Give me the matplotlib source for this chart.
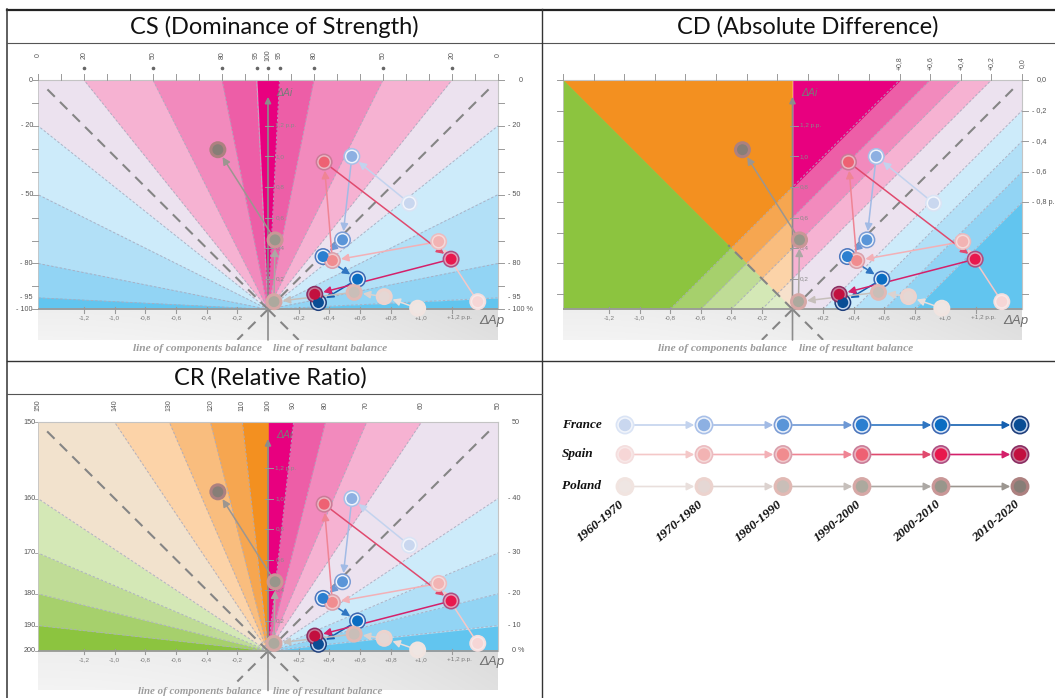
import numpy as np
import matplotlib
matplotlib.use('Agg')
import matplotlib.pyplot as plt
from matplotlib.patches import Polygon
from matplotlib.lines import Line2D

# ---------------- data ----------------
decades = ['1960-1970', '1970-1980', '1980-1990', '1990-2000', '2000-2010', '2010-2020']
countries = ['France', 'Spain', 'Poland']
france_dAp = [0.922, 0.547, 0.486, 0.359, 0.584, 0.329]
france_dAi = [0.694, 1.000, 0.454, 0.345, 0.197, 0.044]
spain_dAp = [1.368, 1.113, 0.420, 0.366, 1.194, 0.305]
spain_dAi = [0.050, 0.443, 0.319, 0.963, 0.328, 0.098]
poland_dAp = [0.976, 0.758, 0.562, 0.039, 0.046, -0.327]
poland_dAi = [0.007, 0.083, 0.111, 0.050, 0.454, 1.044]

cs_levels = [0, 20, 50, 80, 95, 100]
cd_levels = [0.0, 0.2, 0.4, 0.6, 0.8]
cr_levels = [0, 10, 20, 30, 40, 50, 60, 70, 80, 90, 100]
dAp_ticks = [-1.2, -1.0, -0.8, -0.6, -0.4, -0.2, 0.2, 0.4, 0.6, 0.8, 1.0, 1.2]
dAi_ticks = [0.2, 0.4, 0.6, 0.8, 1.0, 1.2]
titles = ['CS (Dominance of Strength)', 'CD (Absolute Difference)', 'CR (Relative Ratio)']

# ---------------- styles ----------------
LAV = '#ece2ef'
BLUES = ['#cdebfa', '#b2e0f7', '#92d4f4', '#62c5ef']
PINKS = ['#f6b2d2', '#f28abd', '#ed5ea7', '#e8007f']
ORANGES = ['#fcd3a8', '#f9bd7e', '#f6a650', '#f39020']
GREENS = ['#d4e8b6', '#bfdc96', '#a6d06c', '#8cc43f']
BEIGE = '#f2e2cd'
OR0, GR0 = '#f7e1cc', '#dcecc6'
SANS = ['Liberation Sans', 'DejaVu Sans']
SERIF = ['Liberation Serif', 'DejaVu Serif']
TFONT = ['Lato', 'DejaVu Sans']
LBL = '#555555'

fr_fill = ['#c9d7ef', '#8db0e2', '#5a95d8', '#2b7fd0', '#0b6dc2', '#0a4d94']
fr_ring = ['#dae4f5', '#a9c0e8', '#7c9dd5', '#4d77bd', '#3d68b2', '#1f3f7c']
fr_gap = ['#f2f5fb', '#f0f4fb', '#eef3fb', '#e8f0fa', '#e4eef9', '#c9d8ee']
sp_fill = ['#f6d6d6', '#f2b3b3', '#f08c8f', '#ee6173', '#e8184d', '#c2103f']
sp_ring = ['#f4dede', '#ebbcc0', '#d9a0ac', '#c97c98', '#ad4e82', '#8a2d62']
sp_gap = ['#f8e8e8', '#f5dada', '#f0c8cc', '#eab6c2', '#e0a0b8', '#c47a98']
pl_fill = ['#efe6e3', '#e5d7d4', '#c9beb8', '#aca99e', '#98968b', '#877e77']
pl_ring = ['#f1e4e0', '#ecd3ce', '#e1b9b4', '#d6a8a6', '#c99797', '#ad8180']
fr_arrow = ['#c3d3ee', '#a2bbe5', '#6e98d4', '#2f76c2', '#1460b0']
sp_arrow = ['#f4c8c8', '#f3b0b6', '#ef8494', '#e04a6e', '#d4206a']
pl_arrow = ['#e9dfdc', '#dcd2cf', '#c6bfbb', '#aca8a4', '#9c9690']

series = [
    (france_dAp, france_dAi, fr_fill, fr_ring, fr_gap, fr_arrow),
    (spain_dAp, spain_dAi, sp_fill, sp_ring, sp_gap, sp_arrow),
    (poland_dAp, poland_dAi, pl_fill, pl_ring, pl_ring, pl_arrow),
]

W, H = 1055, 698
fig = plt.figure(figsize=(W / 100, H / 100), dpi=100)
fig.patch.set_facecolor('white')

BOX = [(-1.5, 0.0), (1.5, 0.0), (1.5, 1.5), (-1.5, 1.5)]


def clip(poly, a, b, c):
    out = []
    n = len(poly)
    for i in range(n):
        P, Q = poly[i], poly[(i + 1) % n]
        fp = a * P[0] + b * P[1] + c
        fq = a * Q[0] + b * Q[1] + c
        if fp >= 0:
            out.append(P)
        if (fp >= 0) != (fq >= 0):
            t = fp / (fp - fq)
            out.append((P[0] + t * (Q[0] - P[0]), P[1] + t * (Q[1] - P[1])))
    return out


def fill_poly(ax, cons, color):
    p = BOX
    for a, b, c in cons:
        p = clip(p, a, b, c)
        if len(p) < 3:
            return
    ax.add_patch(Polygon(p, closed=True, fc=color, ec=color, lw=0.4, zorder=2))


def wedge(ax, a1, a2, color):
    t1, t2 = np.radians(a1), np.radians(a2)
    fill_poly(ax, [(-np.sin(t1), np.cos(t1), 0.0), (np.sin(t2), -np.cos(t2), 0.0)], color)


def ray_end(a):
    t = np.radians(a)
    dx, dy = np.cos(t), np.sin(t)
    s1 = 1.5 / abs(dx) if abs(dx) > 1e-9 else 1e9
    s2 = 1.5 / dy if dy > 1e-9 else 1e9
    s = min(s1, s2)
    return dx * s, dy * s


def thin_dash(ax, x0, y0, x1, y1):
    ax.plot([x0, x1], [y0, y1], color='#a9acc0', lw=0.7, dashes=(2.5, 2.0), zorder=3, alpha=0.9)


def px_axes(x0, x1, ytop, ybot):
    return fig.add_axes([x0 / W, 1 - ybot / H, (x1 - x0) / W, (ybot - ytop) / H])


def make_panel(x0, x1, ytop, yorig, ybot):
    ax = px_axes(x0, x1, ytop, ybot)
    sc = (yorig - ytop) / 1.5
    gb = -(ybot - yorig) / sc
    ax.set_xlim(-1.5, 1.5)
    ax.set_ylim(gb, 1.5)
    ax.axis('off')
    return ax, gb, sc


def decorate(ax, gb, diag_left=1.46):
    # gray band below the ΔAp axis
    xs = np.linspace(0, 1, 300)
    ys = np.linspace(0, 1, 30)
    X, Y = np.meshgrid(xs, ys)
    v = 0.955 - 0.075 * X ** 2 - 0.02 * (1 - Y)
    img = np.dstack([v, v, v])
    ax.imshow(img, extent=(-1.5, 1.5, gb, 0), aspect='auto', origin='upper', zorder=1,
              interpolation='bilinear')
    ax.set_xlim(-1.5, 1.5)
    ax.set_ylim(gb, 1.5)
    # frame
    ax.plot([-1.5, 1.5], [1.5, 1.5], color='#c4c4c4', lw=0.8, zorder=4, clip_on=False)
    ax.plot([1.5, 1.5], [0, 1.5], color='#c4c4c4', lw=0.8, zorder=4, clip_on=False)
    ax.plot([-1.5, -1.5], [0, 1.5], color='#c4c4c4', lw=0.6, zorder=4, clip_on=False)
    # main diagonals
    dk = dict(color='#858585', lw=1.5, dashes=(5, 3.5), zorder=5)
    ax.plot([0, 1.46], [0, 1.46], **dk)
    ax.plot([0, -diag_left], [0, diag_left], **dk)
    ax.plot([0, -0.2], [0, -0.2], **dk)
    ax.plot([0, 0.2], [0, -0.2], **dk)
    # ΔAp axis
    ax.plot([-1.5, 1.5], [0, 0], color='#9a9a9a', lw=1.3, zorder=6)
    for t in dAp_ticks:
        ax.plot([t, t], [0.012, -0.022], color='#9a9a9a', lw=0.8, zorder=6)
        s = ('%+.1f' % t).replace('.', ',')
        if t == dAp_ticks[-1]:
            s += ' p.p.'
        ax.text(t + (0.05 if t == dAp_ticks[-1] else 0), -0.055, s, ha='center', va='center',
                fontsize=4.6, color='#7a7a7a', family=SANS, zorder=7)
    ax.text(1.46, -0.075, 'ΔAp', ha='center', va='center', fontsize=9.5, style='italic',
            color='#6e6e6e', family=SANS, zorder=7, clip_on=False)
    # ΔAi axis
    ax.annotate('', xy=(0, 1.39), xytext=(0, gb),
                arrowprops=dict(arrowstyle='-|>,head_length=0.6,head_width=0.3', color='#8c8c8c',
                                lw=1.2, shrinkA=0, shrinkB=0, mutation_scale=6), zorder=6)
    for t in dAi_ticks:
        ax.plot([-0.018, 0.035], [t, t], color='#9a9a9a', lw=0.7, zorder=6)
        s = ('%.1f' % t).replace('.', ',')
        if t == dAi_ticks[-1]:
            s += ' p.p.'
        ax.text(0.048, t, s, ha='left', va='center', fontsize=4.6, color='#8a8a8a',
                family=SANS, zorder=7)
    ax.text(0.055, 1.415, 'ΔAi', ha='left', va='center', fontsize=7.5, style='italic',
            color='#7a7a7a', family=SANS, zorder=7)
    bl = dict(fontsize=8.2, color='#9c9c9c', family=SERIF, style='italic', weight='bold',
              va='center', clip_on=False, zorder=7)
    return bl


def draw_series(ax):
    for xs, ys, fills, rings, gaps, arrs in series:
        for i in range(len(xs) - 1):
            ax.annotate('', xy=(xs[i + 1], ys[i + 1]), xytext=(xs[i], ys[i]),
                        arrowprops=dict(arrowstyle='-|>,head_length=0.55,head_width=0.28',
                                        color=arrs[i], lw=1.1, shrinkA=6, shrinkB=6.3,
                                        mutation_scale=8), zorder=8)
        ax.scatter(xs, ys, s=150, c=rings, linewidths=0, zorder=9)
        ax.scatter(xs, ys, s=100, c=gaps, linewidths=0, zorder=9)
        ax.scatter(xs, ys, s=62, c=fills, linewidths=0, zorder=10)


def outer_ticks(ax, sc, top_x, side_y):
    L = 6.0 / sc
    for x in top_x:
        ax.plot([x, x], [1.5, 1.5 + L], color='#9a9a9a', lw=0.7, clip_on=False, zorder=4)
    for y in side_y:
        ax.plot([-1.5, -1.5 - L], [y, y], color='#9a9a9a', lw=0.7, clip_on=False, zorder=4)
        ax.plot([1.5, 1.5 + L], [y, y], color='#9a9a9a', lw=0.7, clip_on=False, zorder=4)


# ================= CS panel =================
ax, gb, sc = make_panel(38, 498, 80, 309.3, 340)
cs_r = 1 - np.array(cs_levels) / 100.0
ang_p = np.degrees(np.arctan2(cs_r, 1.0))
ang_i = np.degrees(np.arctan2(1.0, cs_r))
wedge(ax, ang_p[1], ang_i[1], LAV)
wedge(ax, 180 - ang_i[1], 180 - ang_p[1], LAV)
for k in range(1, 5):
    wedge(ax, ang_p[k + 1], ang_p[k], BLUES[k - 1])
    wedge(ax, ang_i[k], ang_i[k + 1], PINKS[k - 1])
    wedge(ax, 180 - ang_p[k], 180 - ang_p[k + 1], BLUES[k - 1])
    wedge(ax, 180 - ang_i[k + 1], 180 - ang_i[k], PINKS[k - 1])
for a in list(ang_p[1:5]) + list(ang_i[1:5]):
    for aa in (a, 180 - a):
        ex, ey = ray_end(aa)
        thin_dash(ax, 0, 0, ex, ey)
bl = decorate(ax, gb)
ax.text(-0.04, -0.255, 'line of components balance', ha='right', **bl)
ax.text(0.035, -0.255, 'line of resultant balance', ha='left', **bl)
outer_ticks(ax, sc, np.arange(-1.5, 1.5001, 0.15), np.arange(0, 1.5001, 0.15))
for c in cs_levels:
    for sgn in ([-1, 1] if c != 100 else [0]):
        x = sgn * 1.5 * (1 - c / 100.0)
        ax.text(x, 1.5 + 25 / sc, str(c), rotation=90, ha='center', va='center', fontsize=5,
                color=LBL, family=SANS, clip_on=False)
        if c != 0:
            ax.plot([x], [1.5 + 11.5 / sc], marker='o', ms=1.6, color='#666666', clip_on=False)
for c in cs_levels:
    y = 1.5 * (1 - c / 100.0)
    ls = '0' if c == 0 else '- %d' % c
    ax.text(-1.5 - 5 / sc, y, ls, ha='right', va='center', fontsize=5.2, color=LBL,
            family=SANS, clip_on=False)
    rs = '0' if c == 0 else ('- %d %%' % c if c == 100 else '- %d' % c)
    ax.text(1.5 + (21 if c == 0 else 10) / sc, y, rs, ha='left', va='center', fontsize=5.2,
            color=LBL, family=SANS, clip_on=False)
draw_series(ax)

# ================= CD panel =================
ax, gb, sc = make_panel(563, 1022, 80, 309.3, 340)
INF = 9.0
cd_edges = [-INF] + [-d for d in cd_levels[:0:-1]] + [d for d in cd_levels[1:]] + [INF]
cd_right_cols = [BLUES[3], BLUES[2], BLUES[1], BLUES[0], LAV, PINKS[0], PINKS[1], PINKS[2], PINKS[3]]
for j in range(len(cd_edges) - 1):
    lo, hi = cd_edges[j], cd_edges[j + 1]
    fill_poly(ax, [(1, 0, 0), (-1, 1, -lo), (1, -1, hi)], cd_right_cols[j])
left_edges = list(cd_levels) + [INF]
or_cols = [OR0] + ORANGES
gr_cols = [GR0] + GREENS
for j in range(len(left_edges) - 1):
    lo, hi = left_edges[j], left_edges[j + 1]
    fill_poly(ax, [(-1, 0, 0), (1, 1, 0), (-1, 1, -lo), (1, -1, hi)], or_cols[j])
    fill_poly(ax, [(-1, 0, 0), (-1, -1, 0), (-1, 1, -lo), (1, -1, hi)], gr_cols[j])
for d in cd_levels[1:]:
    thin_dash(ax, -d, 0, 1.5 - d, 1.5)
    thin_dash(ax, d, 0, 1.5, 1.5 - d)
bl = decorate(ax, gb, diag_left=0.42)
ax.text(-0.04, -0.255, 'line of components balance', ha='right', **bl)
ax.text(0.04, -0.255, 'line of resultant balance', ha='left', **bl)
outer_ticks(ax, sc, np.arange(-1.5, 1.5001, 0.2), np.arange(1.5, 0.05, -0.2))
for d in cd_levels:
    s = '0,0' if d == 0 else ('+%.1f' % d).replace('.', ',')
    ax.text(1.5 - d, 1.5 + 17 / sc, s, rotation=90, ha='center', va='center', fontsize=5,
            color=LBL, family=SANS, clip_on=False)
    rs = '0,0' if d == 0 else ('- %.1f' % d).replace('.', ',')
    if d == cd_levels[-1]:
        rs += ' p.'
    ax.text(1.5 + (15 if d == 0 else 10) / sc, 1.5 - d, rs, ha='left', va='center', fontsize=5.2,
            color=LBL, family=SANS, clip_on=False)
draw_series(ax)

# ================= CR panel =================
ax, gb, sc = make_panel(38, 498, 422.3, 651, 690.5)
v = np.array(cr_levels, dtype=float)
ang_r = np.degrees(np.arctan2(v, 100 - v))
cr_right_cols = [BLUES[3], BLUES[2], BLUES[1], BLUES[0], LAV, LAV, PINKS[0], PINKS[1], PINKS[2], PINKS[3]]
cr_left_cols = [GREENS[3], GREENS[2], GREENS[1], GREENS[0], BEIGE, BEIGE, ORANGES[0], ORANGES[1],
                ORANGES[2], ORANGES[3]]
for j in range(len(v) - 1):
    wedge(ax, ang_r[j], ang_r[j + 1], cr_right_cols[j])
    wedge(ax, 180 - ang_r[j + 1], 180 - ang_r[j], cr_left_cols[j])
for j in range(1, len(v) - 1):
    if cr_levels[j] == 50:
        continue
    for aa in (ang_r[j], 180 - ang_r[j]):
        ex, ey = ray_end(aa)
        thin_dash(ax, 0, 0, ex, ey)
bl = decorate(ax, gb)
bl['fontsize'] = 7.8
ax.text(-0.04, -0.268, 'line of components balance', ha='right', **bl)
ax.text(0.035, -0.268, 'line of resultant balance', ha='left', **bl)
for val in cr_levels:
    if val < 50:
        continue
    xr = 1.5 * (100 - val) / val
    ax.text(xr, 1.5 + 17 / sc, str(val), rotation=90, ha='center', va='center', fontsize=5,
            color=LBL, family=SANS, clip_on=False)
    if val != 100:
        ax.text(-xr, 1.5 + 17 / sc, str(200 - val), rotation=90, ha='center', va='center',
                fontsize=5, color=LBL, family=SANS, clip_on=False)
for val in cr_levels:
    if val > 50:
        continue
    y = 1.5 * val / (100 - val)
    ax.text(-1.5 - 2 / sc, y, str(200 - val), ha='right', va='center', fontsize=5.2, color=LBL,
            family=SANS, clip_on=False)
    ax.plot([-1.5, -1.5 - 3 / sc], [y, y], color='#9a9a9a', lw=0.6, clip_on=False)
    rs = '50' if val == 50 else ('0 %' if val == 0 else '- %d' % val)
    ax.text(1.5 + (14 if val in (50, 0) else 10) / sc, y, rs, ha='left', va='center',
            fontsize=5.2, color=LBL, family=SANS, clip_on=False)
draw_series(ax)

# ================= legend panel =================
lax = px_axes(543, 1055, 361, 698)
lax.set_xlim(543, 1055)
lax.set_ylim(698, 361)
lax.axis('off')
row_y = [425, 454.5, 486.5]
col_x = [625 + 79 * i for i in range(len(decades))]
for r, (name, (_, _, fills, rings, gaps, arrs)) in enumerate(zip(countries, series)):
    y = row_y[r]
    lax.text(562, y, name, ha='left', va='center', fontsize=9.5, family=SERIF, style='italic',
             weight='bold', color='#111111')
    for i in range(len(decades) - 1):
        lax.annotate('', xy=(col_x[i + 1], y), xytext=(col_x[i], y),
                     arrowprops=dict(arrowstyle='-|>,head_length=0.55,head_width=0.28',
                                     color=arrs[i], lw=1.2, shrinkA=7, shrinkB=7,
                                     mutation_scale=8), zorder=3)
    lax.scatter(col_x, [y] * len(col_x), s=185, c=rings, linewidths=0, zorder=4)
    lax.scatter(col_x, [y] * len(col_x), s=125, c=gaps, linewidths=0, zorder=4)
    lax.scatter(col_x, [y] * len(col_x), s=80, c=fills, linewidths=0, zorder=5)
for i, d in enumerate(decades):
    lax.text(col_x[i] - 24, 521, d, rotation=40, ha='center', va='center', fontsize=9.5,
             family=SERIF, style='italic', weight='bold', color='#111111')


# ================= table frame & titles =================
def hline(y, x0, x1, lw, color='#333333'):
    fig.add_artist(Line2D([x0 / W, x1 / W], [1 - y / H, 1 - y / H], transform=fig.transFigure,
                          color=color, lw=lw))


def vline(x, y0, y1, lw, color='#333333'):
    fig.add_artist(Line2D([x / W, x / W], [1 - y0 / H, 1 - y1 / H], transform=fig.transFigure,
                          color=color, lw=lw))


hline(9.5, 6.5, 1055, 1.6, '#222222')
vline(7.3, 9, 698, 1.1)
hline(43.3, 7, 1055, 0.8, '#555555')
vline(542, 9, 698, 1.0)
hline(360.7, 7, 1055, 1.0)
hline(394, 7, 542, 0.8, '#555555')
fig.text(274.5 / W, 1 - 26.5 / H, titles[0], ha='center', va='center', fontsize=17, family=TFONT,
         color='#111111')
fig.text(808 / W, 1 - 26.5 / H, titles[1], ha='center', va='center', fontsize=17, family=TFONT,
         color='#111111')
fig.text(270 / W, 1 - 378 / H, titles[2], ha='center', va='center', fontsize=17, family=TFONT,
         color='#111111')

fig.savefig('out.png', dpi=100)
